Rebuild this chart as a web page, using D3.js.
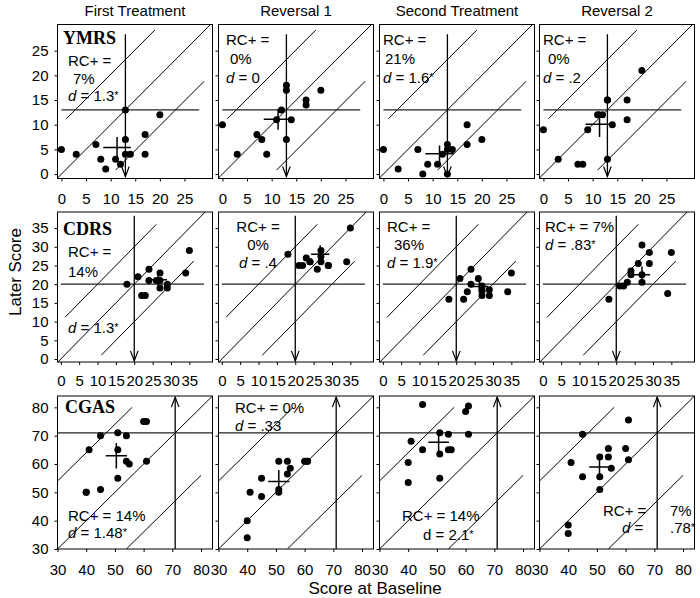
<!DOCTYPE html>
<html><head><meta charset="utf-8">
<script src="https://cdn.jsdelivr.net/npm/d3@7"></script>
<style>body{margin:0;background:#fff}</style>
</head><body><svg id="c" width="700" height="598"></svg>
<script>
// ---------- DATA ----------
const columns = ["First Treatment", "Reversal 1", "Second Treatment", "Reversal 2"];
const measures = ["YMRS", "CDRS", "CGAS"];
const ymrsTicks = [0, 5, 10, 15, 20, 25];
const cdrsTicks = [0, 5, 10, 15, 20, 25, 30, 35];
const cgasTicks = [30, 40, 50, 60, 70, 80];

const ymrsBaseline = [0, 3, 7, 8, 9, 11, 12, 13, 13, 13, 14, 17, 17, 20];
const ymrsFirst  = [5, 4, 6, 3, 1, 3, 2, 13, 7, 4, 4, 8, 4, 12];
const ymrsRev1   = [10, 4, 8, 7, 4, 11, 13, 18, 17, 7, 11, 15, 14, 17];
const ymrsSecond = [5, 1, 5, 0, 2, 2, 4, 6, 5, 0, 5, 10, 6, 7];
const ymrsRev2   = [9, 3, 2, 2, 9, 12, 12, 15, 15, 3, 10, 15, 11, 21];

const cdrsBaseline = [18, 21, 22, 23, 24, 24, 26, 27, 27, 27, 29, 29, 34, 35];
const cdrsFirst  = [20, 22, 17, 17, 24, 21, 21, 21, 23, 19, 20, 19, 23, 29];
const cdrsRev1   = [28, 25, 25, 27, 26, 26, 24, 29, 27.5, 26, 25, 25, 26, 35];
const cdrsSecond = [16, 21.5, 16, 18, 24, 20, 21.5, 19.5, 18.5, 17, 18.5, 17, 18, 23];
const cdrsRev2   = [16, 19.5, 19.5, 20.5, 22.5, 23.5, 25.5, 30.5, 22.5, 20.5, 28.5, 25.5, 17.5, 28.5];

const cgasBaseline = [40, 40, 41, 45, 45, 51, 51, 51, 54, 54, 55, 60, 61, 61];
const cgasFirst  = [50, 50, 65, 70, 51, 71, 65, 55, 70, 61, 60, 75, 75, 61];
const cgasRev1   = [34, 40, 50, 55, 48.5, 61, 51, 50, 61, 56.5, 58.5, 61, 61, 61];
const cgasSecond = [53.5, 60.5, 68, 81, 65, 71, 63.5, 55, 70.5, 65, 65, 78.5, 80.5, 70.5];
const cgasRev2   = [38.5, 35.5, 60.5, 70.5, 55.5, 62.5, 55.5, 51, 65.5, 62.5, 58.5, 65.5, 75.5, 61.5];

// mean and 95% CI half-widths (x = baseline, y = later)
const meanX = [[11.3, 11.3, 11.4, 11.4], [26.5, 26.8, 26.3, 27.0], [50.5, 51, 50.6, 50.9]];
const meanY = [[5.4, 11.1, 4.1, 10.1], [21.2, 28.0, 19.4, 22.5], [62.9, 53.8, 67.7, 58.9]];
const ciX   = [[2.8, 2.9, 2.9, 2.85], [2.4, 2.5, 2.4, 2.2], [3.7, 3.7, 3.6, 3.6]];
const ciY   = [[2.1, 2.1, 1.7, 2.6], [1.8, 2.4, 1.8, 2.2], [4.5, 4.1, 3.2, 4.4]];

const cutoffs = [13, 20, 71];
const rciBand = [10.2, 10, 24];
const rcPlus = [["7%", "0%", "21%", "0%"], ["14%", "0%", "36%", "7%"], ["14%", "0%", "14%", "7%"]];
const dValues = [["1.3*", "0", "1.6*", ".2"], ["1.3*", ".4", "1.9*", ".83*"], ["1.48*", ".33", "2.1*", ".78*"]];

// ---------- LAYOUT ----------
const baselines = [ymrsBaseline, cdrsBaseline, cgasBaseline];
const later = [[ymrsFirst, ymrsRev1, ymrsSecond, ymrsRev2],
               [cdrsFirst, cdrsRev1, cdrsSecond, cdrsRev2],
               [cgasFirst, cgasRev1, cgasSecond, cgasRev2]];
const ticks = [ymrsTicks, cdrsTicks, cgasTicks];

const colLeft = [57.5, 218.5, 379.5, 539.5], panelW = 155;
const rowTop = [24.5, 212, 396], rowH = [154, 150, 153];
const xDom = [[-0.8, 30.7], [-0.9, 41.3], [30, 84]];
const yDom = [[-0.9, 30.3], [-0.8, 39.3], [30, 84]];
const hExt = [[0, 28], [0, 39], [30, 84]];
const upperExt = [[1, 19], [1.2, 26], [30, 56]];
const lowerExt = [[11, 29], [11, 36.2], [54, 80]];
const arrowExt = [[28.3, -0.5], [38.3, -0.5], [30, 83.6]];
const labelDy = [6, 4, 6];

const FONT = "'Liberation Sans', Arial, sans-serif";
const SERIF = "'Liberation Serif', 'Times New Roman', serif";

// annotation layouts: kind, dx, dy (relative to panel top-left), anchor
const ann = [
  [
    [["name", 5.5, 19.5], ["rcA", 10.5, 41.5], ["rcV", 15.5, 59.5], ["d", 10.5, 76.5]],
    [["rcA", 7.5, 20.5], ["rcV", 11.5, 39.5], ["d", 7.5, 58.5]],
    [["rcA", 3.5, 20.5], ["rcV", 5.5, 39.5], ["d", 3.5, 58.5]],
    [["rcA", 3.5, 20.5], ["rcV", 8.5, 39.5], ["d", 3.5, 58.5]]
  ],
  [
    [["name", 5.5, 23], ["rcA", 10.5, 45], ["rcV", 10.5, 65], ["d", 10.5, 121]],
    [["rcA", 39.5, 20, "middle"], ["rcV", 39.5, 38, "middle"], ["d", 39.5, 56, "middle"]],
    [["rcA", 7.5, 20], ["rcV", 29.5, 38, "middle"], ["d", 7.5, 56]],
    [["rc2", 5.5, 20], ["d", 5.5, 38]]
  ],
  [
    [["name", 7.5, 17], ["rc", 10.5, 125], ["d", 10.5, 142]],
    [["rc", 16.5, 17], ["d", 16.5, 35]],
    [["rc", 22.5, 125], ["dUp", 43.5, 144]],
    [["rcA", 63.5, 120], ["rcV", 130.5, 120], ["dA", 82.5, 137], ["dV", 130.5, 137]]
  ]
];

const svg = d3.select("#c");
svg.append("rect").attr("width", 700).attr("height", 598).attr("fill", "#fff");

function addDText(t, val, italic) {
  t.append("tspan").attr("font-style", italic ? "italic" : "normal").text("d");
  const star = val.endsWith("*");
  t.append("tspan").text(" = " + (star ? val.slice(0, -1) : val));
  if (star) t.append("tspan").attr("font-size", 11).attr("dy", -2).text("*");
}

for (let r = 0; r < 3; r++) {
  for (let c = 0; c < 4; c++) {
    const x0 = colLeft[c], y0 = rowTop[r], w = panelW, h = rowH[r];
    const x = d3.scaleLinear().domain(xDom[r]).range([x0, x0 + w]);
    const y = d3.scaleLinear().domain(yDom[r]).range([y0 + h, y0]);
    const g = svg.append("g");
    const cid = `clip${r}${c}`;
    svg.append("clipPath").attr("id", cid).append("rect")
      .attr("x", x0).attr("y", y0).attr("width", w).attr("height", h);
    const lg = g.append("g").attr("clip-path", `url(#${cid})`);

    // diagonal y = x
    const lo = Math.min(xDom[r][0], yDom[r][0]), hi = Math.max(xDom[r][1], yDom[r][1]);
    lg.append("line").attr("x1", x(lo)).attr("y1", y(lo)).attr("x2", x(hi)).attr("y2", y(hi))
      .attr("stroke", "#000").attr("stroke-width", 1);
    // RCI band lines
    const b = rciBand[r];
    lg.append("line").attr("x1", x(upperExt[r][0])).attr("y1", y(upperExt[r][0] + b))
      .attr("x2", x(upperExt[r][1])).attr("y2", y(upperExt[r][1] + b))
      .attr("stroke", "#000").attr("stroke-width", 1);
    lg.append("line").attr("x1", x(lowerExt[r][0])).attr("y1", y(lowerExt[r][0] - b))
      .attr("x2", x(lowerExt[r][1])).attr("y2", y(lowerExt[r][1] - b))
      .attr("stroke", "#000").attr("stroke-width", 1);
    // cutoff horizontal
    const cut = cutoffs[r];
    lg.append("line").attr("x1", x(hExt[r][0])).attr("x2", x(hExt[r][1]))
      .attr("y1", y(cut)).attr("y2", y(cut)).attr("stroke", "#222").attr("stroke-width", 1.3);
    // vertical arrow
    const ya = y(arrowExt[r][0]), yb = y(arrowExt[r][1]), xa = x(cut);
    lg.append("line").attr("x1", xa).attr("x2", xa).attr("y1", ya).attr("y2", yb)
      .attr("stroke", "#000").attr("stroke-width", 1.3);
    const dir = yb > ya ? -1 : 1;
    lg.append("path").attr("d", `M${xa - 3.8},${yb + dir * 10}L${xa},${yb}L${xa + 3.8},${yb + dir * 10}`)
      .attr("fill", "none").attr("stroke", "#000").attr("stroke-width", 1.2);

    // points
    const bx = baselines[r], ly = later[r][c];
    lg.selectAll("circle").data(bx.map((v, i) => [v, ly[i]])).join("circle")
      .attr("cx", d => x(d[0])).attr("cy", d => y(d[1])).attr("r", 3.5).attr("fill", "#000");

    // mean cross
    const mx = meanX[r][c], my = meanY[r][c];
    lg.append("line").attr("x1", x(mx - ciX[r][c])).attr("x2", x(mx + ciX[r][c]))
      .attr("y1", y(my)).attr("y2", y(my)).attr("stroke", "#000").attr("stroke-width", 1.5);
    lg.append("line").attr("x1", x(mx)).attr("x2", x(mx))
      .attr("y1", y(my - ciY[r][c])).attr("y2", y(my + ciY[r][c])).attr("stroke", "#000").attr("stroke-width", 1.5);

    // box
    g.append("rect").attr("x", x0).attr("y", y0).attr("width", w).attr("height", h)
      .attr("fill", "none").attr("stroke", "#000").attr("stroke-width", 1);

    // axes
    const ay = g.append("g").attr("transform", `translate(${x0},0)`)
      .call(d3.axisLeft(y).tickValues(ticks[r]).tickSize(3).tickSizeOuter(0).tickPadding(6)
        .tickFormat(c === 0 ? d3.format("d") : () => ""));
    const ax = g.append("g").attr("transform", `translate(0,${y0 + h})`)
      .call(d3.axisBottom(x).tickValues(ticks[r]).tickSize(3).tickSizeOuter(0).tickPadding(6 + labelDy[r]));
    [ax, ay].forEach(a => {
      a.select(".domain").remove();
      a.selectAll("text").attr("font-family", FONT).attr("font-size", 15).attr("fill", "#000");
      a.selectAll("line").attr("stroke", "#000");
    });

    // annotations
    ann[r][c].forEach(([kind, dx, dy, anchor]) => {
      const t = g.append("text").attr("x", x0 + dx).attr("y", y0 + dy)
        .attr("font-family", FONT).attr("font-size", 15).attr("fill", "#000")
        .attr("text-anchor", anchor || "start");
      const rc = rcPlus[r][c], dv = dValues[r][c];
      if (kind === "name") t.attr("font-family", SERIF).attr("font-weight", "bold").attr("font-size", 18).text(measures[r]);
      else if (kind === "rcA") t.text("RC+ =");
      else if (kind === "rcV") t.text(rc);
      else if (kind === "rc") t.text("RC+ = " + rc);
      else if (kind === "rc2") t.text("RC+ =  " + rc);
      else if (kind === "d") addDText(t, dv, true);
      else if (kind === "dUp") addDText(t, dv, false);
      else if (kind === "dA") { t.append("tspan").attr("font-style", "italic").text("d"); t.append("tspan").text(" ="); }
      else if (kind === "dV") {
        const star = dv.endsWith("*");
        t.append("tspan").text(star ? dv.slice(0, -1) : dv);
        if (star) t.append("tspan").attr("font-size", 11).attr("dy", -2).text("*");
      }
    });
  }
}

// column titles
columns.forEach((t, c) => {
  svg.append("text").attr("x", colLeft[c] + panelW / 2).attr("y", 16)
    .attr("text-anchor", "middle").attr("font-family", FONT).attr("font-size", 15).text(t);
});
// axis titles
svg.append("text").attr("transform", "translate(21,272) rotate(-90)")
  .attr("text-anchor", "middle").attr("font-family", FONT).attr("font-size", 17).text("Later Score");
svg.append("text").attr("x", 375).attr("y", 594)
  .attr("text-anchor", "middle").attr("font-family", FONT).attr("font-size", 17).text("Score at Baseline");
</script></body></html>
